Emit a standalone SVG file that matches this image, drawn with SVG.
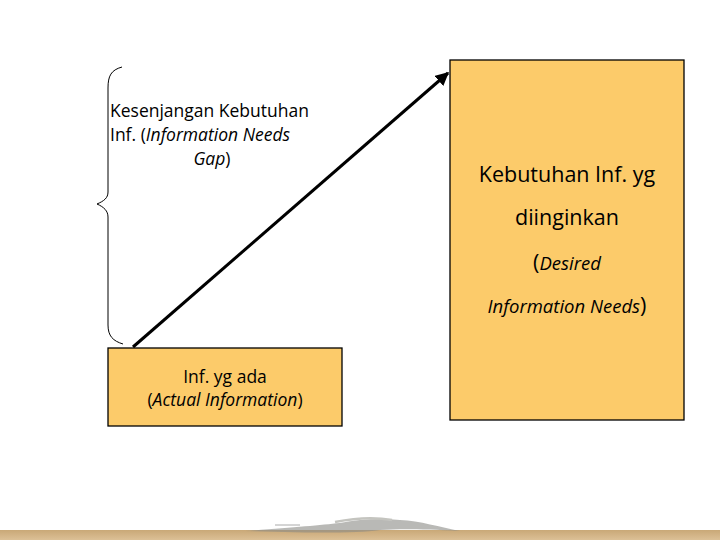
<svg xmlns="http://www.w3.org/2000/svg" width="720" height="540" viewBox="0 0 720 540">
<defs>
<style>
.box{fill:#FCCB6A;stroke:#000;stroke-width:1.3}
.t{font-family:"Open Sans","DejaVu Sans",sans-serif;fill:#000;font-weight:500}
.i{font-style:italic}
</style>
<marker id="ah" viewBox="0 0 10 10" refX="9" refY="5" markerWidth="4.5" markerHeight="4.5" orient="auto" markerUnits="strokeWidth">
<path d="M0,0 L10,5 L0,10 z" fill="#000"/>
</marker>
<linearGradient id="band" x1="0" y1="0" x2="0" y2="1">
<stop offset="0" stop-color="#C9A877"/>
<stop offset="1" stop-color="#DCC096"/>
</linearGradient>
</defs>
<rect width="720" height="540" fill="#fff"/>
<g id="floor">
<rect x="0" y="530" width="720" height="10" fill="url(#band)"/>
<path d="M245,531 C290,528 320,525 340,523 C360,519 380,518 400,520 C420,521 440,527 460,531 C420,529 400,529 380,530 C360,533 320,533 285,532 Z" fill="#8a8a86" opacity="0.6"/>
<path d="M335,522 C355,518 375,517 392,520" stroke="#c4c4bf" stroke-width="2.5" fill="none"/>
<path d="M275,525 L300,525" stroke="#aaa" stroke-width="1"/>
</g>
<g id="connectors">
<line x1="133" y1="347" x2="448" y2="73" stroke="#000" stroke-width="3" marker-end="url(#ah)"/>
<path id="brace" d="M122,67 C111,70 108,76 108,88 L108,192 C108,198 104,201 97,204 C104,207 108,211 108,217 L108,325 C108,336 113,341 123,344" fill="none" stroke="#000" stroke-width="1"/>
</g>
<g id="gap-label">
<text class="t" font-size="17.5"><tspan x="110" y="117">Kesenjangan Kebutuhan</tspan><tspan x="110" y="141">Inf. (<tspan class="i">Information Needs</tspan></tspan><tspan x="212" y="165" text-anchor="middle"><tspan class="i">Gap</tspan>)</tspan></text>
</g>
<g id="actual">
<rect class="box" x="108" y="348" width="234" height="78"/>
<text class="t" font-size="17.5" text-anchor="middle"><tspan x="225" y="383">Inf. yg ada</tspan><tspan x="225" y="406">(<tspan class="i">Actual Information</tspan>)</tspan></text>
</g>
<g id="desired">
<rect class="box" x="450" y="60" width="234" height="360"/>
<text class="t" font-size="21.5" text-anchor="middle"><tspan x="567" y="182">Kebutuhan Inf. yg</tspan><tspan x="567" y="225">diinginkan</tspan><tspan x="567" y="270">(<tspan class="i" font-size="18.5">Desired</tspan></tspan><tspan x="567" y="313"><tspan class="i" font-size="18.5">Information Needs</tspan>)</tspan></text>
</g>
</svg>
